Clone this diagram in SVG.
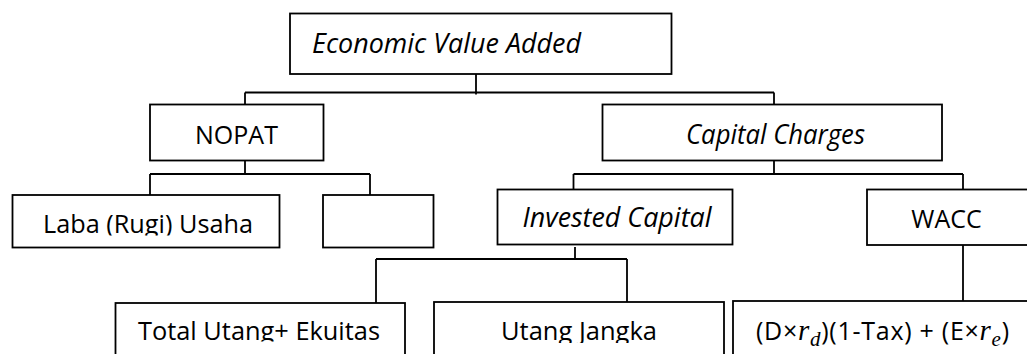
<svg xmlns="http://www.w3.org/2000/svg" width="1027" height="354" viewBox="0 0 1027 354">
<style>
.box{fill:#fff;stroke:#000;stroke-width:1.8}
.ln{fill:none;stroke:#000;stroke-width:1.8}
.t{font-family:"Open Sans","Liberation Sans",sans-serif;font-size:25px;fill:#000}
.i{font-style:italic;font-size:26.5px}
.m{font-family:"Liberation Serif","DejaVu Serif",serif;font-style:italic}
</style>
<defs>
<clipPath id="cLaba"><rect x="12" y="195" width="268" height="40.5"/></clipPath>
<clipPath id="cTotal"><rect x="115" y="303" width="290" height="38.5"/></clipPath>
<clipPath id="cJangka"><rect x="434" y="302" width="290" height="41"/></clipPath>
</defs>
<rect width="1027" height="354" fill="#fff"/>
<g id="connectors">
<path class="ln" d="M476 74V94.5M245 92.5H774M245 92.5V104.5M774 92.5V104.5"/>
<path class="ln" d="M245 160.5V174M150 174H370M150 174V195M370 174V195"/>
<path class="ln" d="M774 160.5V174M573.5 174H963M573.5 174V189.5M963 174V189.5"/>
<path class="ln" d="M575 247V259M376 259H627M376 259V303M627 259V302"/>
<path class="ln" d="M963 245V301"/>
</g>
<g id="eva">
<rect class="box" x="290" y="13.5" width="381.5" height="60.5"/>
<text class="t i" x="312" y="53" textLength="269" lengthAdjust="spacingAndGlyphs">Economic Value Added</text>
</g>
<g id="nopat">
<rect class="box" x="150" y="104.5" width="173.5" height="56"/>
<text class="t" x="236.5" y="144" text-anchor="middle">NOPAT</text>
</g>
<g id="capital-charges">
<rect class="box" x="602.5" y="104.5" width="339.5" height="56"/>
<text class="t i" x="686" y="144" textLength="179" lengthAdjust="spacingAndGlyphs">Capital Charges</text>
</g>
<g id="laba">
<rect class="box" x="12.5" y="195" width="267" height="52.5"/>
<text class="t" x="43" y="233" clip-path="url(#cLaba)" textLength="210" lengthAdjust="spacingAndGlyphs">Laba (Rugi) Usaha</text>
</g>
<g id="empty">
<rect class="box" x="323" y="195" width="110.5" height="52.5"/>
</g>
<g id="invested-capital">
<rect class="box" x="497.5" y="189.5" width="235" height="55"/>
<text class="t i" x="522.5" y="227" textLength="189" lengthAdjust="spacingAndGlyphs">Invested Capital</text>
</g>
<g id="wacc">
<rect class="box" x="867" y="189.5" width="170" height="55.5"/>
<text class="t" x="946.5" y="228" text-anchor="middle">WACC</text>
</g>
<g id="total-utang">
<rect class="box" x="115.5" y="303" width="289.5" height="60"/>
<text class="t" x="138" y="340" clip-path="url(#cTotal)" textLength="242" lengthAdjust="spacingAndGlyphs">Total Utang+ Ekuitas</text>
</g>
<g id="utang-jangka">
<rect class="box" x="434" y="302" width="290" height="60"/>
<text class="t" x="501" y="340" clip-path="url(#cJangka)" textLength="156" lengthAdjust="spacingAndGlyphs">Utang Jangka</text>
</g>
<g id="formula">
<rect class="box" x="733" y="301" width="304" height="60"/>
<text class="t" x="756" y="340" font-size="25.5" textLength="253" lengthAdjust="spacing">(D×<tspan class="m" font-size="29">r</tspan><tspan class="m" font-size="21" dy="6">d</tspan><tspan dy="-6">)(1-Tax) + (E×</tspan><tspan class="m" font-size="29">r</tspan><tspan class="m" font-size="21" dy="6">e</tspan><tspan dy="-6">)</tspan></text>
</g>
</svg>
